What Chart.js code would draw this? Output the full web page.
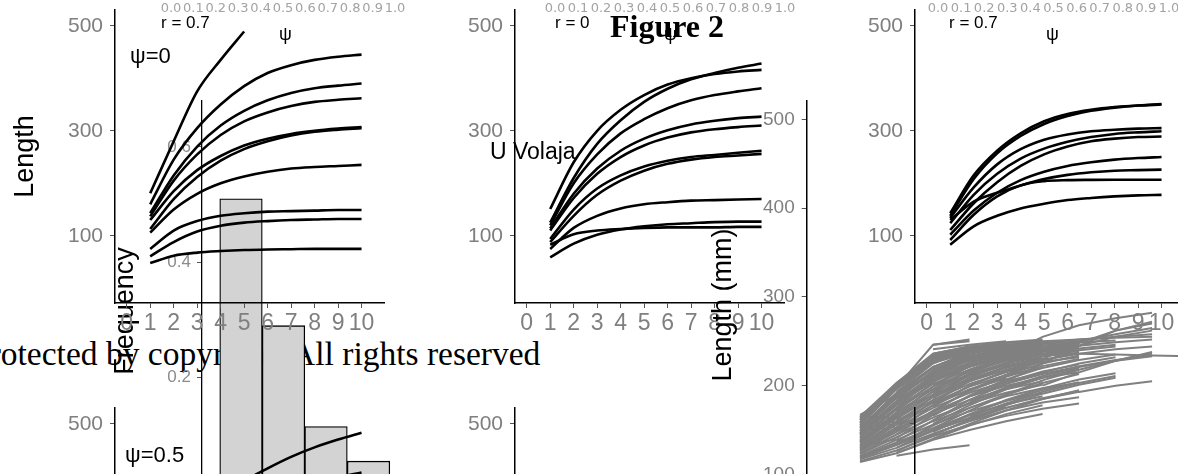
<!DOCTYPE html>
<html>
<head>
<meta charset="utf-8">
<script src="https://cdn.jsdelivr.net/npm/chart.js@4.4.1/dist/chart.umd.min.js"></script>
<style>
  html, body { margin: 0; padding: 0; background: #fff; }
  body { position: relative; width: 1178px; height: 474px; overflow: hidden;
         font-family: 'Liberation Sans', Arial, sans-serif; }
  canvas { position: absolute; }
  .lbl { position: absolute; white-space: nowrap; line-height: 1; color: #000; }
</style>
</head>
<body>
<div class="lbl" style="left:-29px;top:335px;font:33.5px 'Liberation Serif', serif;">Protected by copyright. All rights reserved</div>
<script>
// ---- growth-curve panels: length at age 1..10 ----
const ages = [1, 2, 3, 4, 5, 6, 7, 8, 9, 10];
const ageTicks = [0, 1, 2, 3, 4, 5, 6, 7, 8, 9, 10];
const lengthTicks = [100, 300, 500];

// r = 0.7, psi = 0
const curvesR07Psi0 = [
  [181, 280, 375, 435, 489],
  [160, 245, 305, 350, 385, 410, 425, 435, 441, 445],
  [143, 215, 270, 310, 338, 358, 372, 381, 386, 390],
  [137, 205, 255, 292, 318, 335, 347, 355, 359, 362],
  [130, 185, 225, 252, 272, 285, 294, 300, 304, 307],
  [113, 170, 212, 243, 265, 280, 291, 298, 302, 305],
  [106, 150, 180, 200, 213, 222, 228, 231, 233, 235],
  [75, 110, 128, 138, 143, 146, 147, 148, 149, 149],
  [61, 88, 108, 119, 125, 128, 130, 131, 132, 132],
  [48, 62, 68, 71, 73, 74, 74.5, 75, 75, 75]
];

// r = 0, psi = 0
const curvesR0 = [
  [151, 240, 300, 340, 368, 388, 400, 408, 413, 416],
  [125, 210, 275, 320, 355, 380, 398, 410, 420, 428],
  [120, 200, 255, 295, 322, 343, 358, 368, 375, 381],
  [114, 180, 228, 262, 285, 301, 312, 319, 324, 327],
  [110, 172, 218, 250, 272, 287, 297, 303, 307, 310],
  [94, 150, 190, 215, 232, 243, 250, 254, 258, 262],
  [88, 138, 178, 205, 224, 237, 245, 250, 253, 256],
  [75, 115, 138, 152, 160, 164, 167, 168, 169, 170],
  [59, 85, 102, 112, 118, 122, 124, 126, 127, 127],
  [83, 103, 110, 113, 115, 116, 116, 116, 117, 117]
];

// r = 0.7 (right column)
const curvesR07 = [
  [143, 215, 262, 295, 318, 332, 340, 345, 348, 351],
  [138, 208, 257, 290, 313, 328, 338, 344, 348, 350],
  [134, 192, 236, 265, 283, 293, 299, 302, 304, 305],
  [124, 178, 218, 247, 266, 279, 288, 294, 297, 299],
  [111, 162, 202, 233, 255, 270, 280, 285, 288, 289],
  [102, 148, 182, 206, 222, 233, 240, 245, 248, 250],
  [130, 165, 182, 196, 208, 216, 221, 224, 225, 226],
  [92, 140, 175, 196, 204, 206, 206.5, 206.7, 206.7, 206.7],
  [83, 118, 138, 152, 161, 168, 172, 175, 177, 178]
];

// r = 0.7, psi = 0.5
const curvesR07Psi05 = [
  [150, 240, 305, 355, 390, 415, 437, 455, 470, 483],
  [130, 210, 265, 305, 335, 357, 374, 387, 398, 407]
];

// ---- histogram ----
const freqBins = [0.3, 0.5, 0.7, 0.9];
const freqValues = [0.51, 0.29, 0.115, 0.055];
const freqTicks = [0.2, 0.4, 0.6];
const psiTicks = [0, 0.1, 0.2, 0.3, 0.4, 0.5, 0.6, 0.7, 0.8, 0.9, 1.0];

// ---- observed fish lengths (mm), one row per fish, first value at its first age ----
const mmTicks = [100, 200, 300, 400, 500];
const fishFromAge1 = [
  [114, 124, 139, 150, 160, 168],
  [115, 127, 143, 156, 166, 174, 180],
  [117, 130, 146, 160, 172, 181, 187],
  [118, 133, 149, 164, 176],
  [119, 134, 150, 163, 175, 185, 193, 200, 205],
  [120, 136, 152, 167, 179, 188],
  [121, 139, 156, 171, 183, 192],
  [123, 142, 160, 175, 188, 197, 203],
  [124, 145, 164, 180, 192, 201],
  [126, 148, 168, 184, 196, 205],
  [127, 151, 171, 188, 200, 209, 215],
  [128, 150, 170, 188, 202, 213, 222, 229, 234],
  [129, 153, 175, 192, 205, 214, 220],
  [130, 156, 178, 196, 208],
  [131, 140],
  [132, 158, 181, 199, 212, 220],
  [133, 160, 184, 202, 215, 224],
  [135, 163, 187, 205, 218, 227, 232],
  [136, 165, 190, 208, 221, 229],
  [137, 166, 190, 207, 220, 229, 236, 241, 244],
  [138, 168, 193, 211, 223, 231],
  [139, 170, 196, 213, 225, 233, 237],
  [141, 173, 199, 216, 228, 235, 239],
  [142, 175, 202, 218, 230, 236],
  [144, 178, 205, 221, 232, 238],
  [145, 181, 209, 224, 234, 239],
  [146, 180, 207, 223, 233, 240, 245, 249, 252],
  [147, 183, 211, 226, 235, 240, 243],
  [149, 186, 214, 228, 237],
  [150, 188, 216, 230, 238, 242],
  [152, 190, 219, 232, 239, 243],
  [153, 192, 221, 234, 240, 244],
  [155, 198, 246, 250],
  [156, 196, 226, 237, 242],
  [158, 198, 228, 239, 243],
  [159, 200, 230, 240, 244, 246],
  [161, 201, 232, 241, 245, 247],
  [162, 203, 233, 242],
  [164, 200, 234, 243],
  [165, 203, 236, 244, 247],
  [167, 190, 215, 232, 242, 248, 252, 255, 258]
];
const fishFromAge2 = [
  [121, 128, 133],
  [124, 140, 155, 168, 178],
  [126, 145, 161, 175, 186, 194],
  [130, 150, 168, 183, 195, 204],
  [133, 155, 175, 190, 202],
  [137, 161, 181, 197, 209],
  [141, 167, 188, 204, 216, 224],
  [145, 172, 194, 210, 222, 230],
  [149, 178, 200, 216, 227],
  [153, 183, 206, 221, 231],
  [157, 188, 212, 226, 235, 240],
  [162, 194, 217, 230, 238, 242],
  [166, 199, 222, 234, 241],
  [171, 204, 226, 237, 243],
  [175, 209, 230, 239, 244],
  [180, 213, 233, 241, 245, 247],
  [184, 217, 236, 243, 246],
  [189, 221, 238, 244],
  [193, 225, 240, 245],
  [198, 228, 242, 246, 248],
  [202, 231, 243, 247]
];
const fishFromAge3 = [
  [140, 157, 172, 185, 195],
  [144, 162, 178, 191, 201, 209],
  [148, 167, 184, 197, 207, 214],
  [152, 172, 190, 203, 213],
  [157, 178, 196, 209, 219],
  [161, 184, 202, 215, 225, 232],
  [166, 189, 207, 220, 229, 235],
  [171, 195, 212, 225, 234],
  [176, 200, 217, 229, 237],
  [180, 195, 212, 230, 248, 262, 270],
  [181, 205, 221, 233, 240, 244],
  [186, 209, 225, 236, 242, 246],
  [191, 214, 229, 239, 244],
  [196, 218, 232, 241, 246],
  [201, 222, 235, 243, 247],
  [206, 226, 238, 245, 249, 251],
  [211, 230, 241, 247, 250],
  [216, 233, 243, 248],
  [221, 236, 245, 249],
  [226, 239, 246, 250, 252, 254, 255],
  [231, 242, 248, 251],
  [236, 244, 249, 252],
  [241, 246, 250],
  [246, 252]
];
const fishLaterStart = [4, 4, 4, 5, 5, 5, 6, 6, 7];
const fishLater = [
  [165, 180, 193, 203, 211],
  [182, 198, 211, 221, 228, 233],
  [215, 235, 255, 268, 276, 282],
  [190, 206, 218, 228, 236],
  [205, 225, 245, 262, 272],
  [225, 240, 250, 258, 265],
  [200, 215, 228, 238],
  [235, 245, 255, 262],
  [236, 235, 234, 233]
];

// ---- drawing ----
const GREY = '#7f7f7f';
const TICKMARK = '#555';
Chart.defaults.font.family = "'Liberation Sans', Arial, sans-serif";
Chart.defaults.animation = false;
Chart.defaults.responsive = false;
Chart.defaults.plugins.legend.display = false;
Chart.defaults.plugins.tooltip.enabled = false;

function addCanvas(left, top, w, h) {
  const c = document.createElement('canvas');
  c.width = w; c.height = h;
  c.style.left = left + 'px'; c.style.top = top + 'px';
  c.style.width = w + 'px'; c.style.height = h + 'px';
  document.body.appendChild(c);
  return c;
}
function fixedTicks(values) {
  return scale => { scale.ticks = values.map(v => ({ value: v })); };
}
// pin an axis box to an exact size and keep its labels from shrinking the plot area
function pinSize(prop, size) {
  return s => {
    s[prop] = size;
    s.paddingTop = 0; s.paddingBottom = 0; s.paddingLeft = 0; s.paddingRight = 0;
  };
}
function curveSets(curves) {
  return curves.map(vals => ({
    data: vals.map((v, i) => ({ x: ages[i], y: v })),
    borderColor: '#000', borderWidth: 2.6, pointRadius: 0,
    cubicInterpolationMode: 'monotone', fill: false
  }));
}

function growthPanel(left, top, curves, title) {
  const c = addCanvas(left, top, 385, 340);
  return new Chart(c, {
    type: 'line',
    data: { datasets: curveSets(curves) },
    options: {
      devicePixelRatio: 1,
      layout: { padding: { top: 10, left: 0, right: 0, bottom: 0 } },
      scales: {
        x: {
          type: 'linear', min: -0.5, max: 11,
          afterBuildTicks: fixedTicks(ageTicks),
          afterFit: pinSize('height', 37),
          grid: { display: true, drawOnChartArea: false, drawTicks: true, tickLength: 5, color: TICKMARK, lineWidth: 1 },
          border: { display: true, color: '#000', width: 1.5 },
          ticks: { color: GREY, font: { size: 23 }, padding: 2, maxRotation: 0, autoSkip: false, callback: v => String(v) }
        },
        y: {
          type: 'linear', min: -28, max: 530,
          afterBuildTicks: fixedTicks(lengthTicks),
          afterFit: pinSize('width', 115),
          grid: { display: true, drawOnChartArea: false, drawTicks: true, tickLength: 5, color: TICKMARK, lineWidth: 1 },
          border: { display: true, color: '#000', width: 1.5 },
          ticks: { color: GREY, font: { size: 21 }, padding: 7, callback: v => String(v) },
          title: { display: !!title, text: title || '', color: '#000', font: { size: 27 }, padding: { top: 9.3, bottom: 0 } }
        }
      }
    }
  });
}

function stripChart(c0, c1) {
  const pad = 20;
  const c = addCanvas(c0 - pad, -3, (c1 - c0) + 2 * pad, 18);
  return new Chart(c, {
    type: 'scatter',
    data: { datasets: [] },
    options: {
      devicePixelRatio: 1,
      layout: { padding: { left: pad, right: pad, top: 0, bottom: 0 } },
      scales: {
        x: {
          type: 'linear', min: 0, max: 1,
          afterBuildTicks: fixedTicks(psiTicks),
          afterFit: pinSize('height', 14),
          grid: { display: false, drawTicks: false },
          border: { display: false },
          ticks: { color: '#a3a3a3', font: { family: "'DejaVu Sans', sans-serif", size: 13 }, padding: 0,
                   autoSkip: false, maxRotation: 0, callback: v => v.toFixed(1) }
        },
        y: { display: false }
      }
    }
  });
}

// histogram (drawn first, beneath the panels)
new Chart(addCanvas(100, 100, 300, 422), {
  type: 'bar',
  data: { datasets: [{
    data: freqBins.map((b, i) => ({ x: b, y: freqValues[i] })),
    backgroundColor: '#d3d3d3', borderColor: '#000', borderWidth: 1.3,
    barPercentage: 1, categoryPercentage: 1
  }] },
  options: {
    devicePixelRatio: 1,
    layout: { padding: 0 },
    scales: {
      x: { type: 'linear', min: 0.1165, max: 1.048, offset: false, grid: { offset: false }, display: false },
      y: {
        type: 'linear', min: -0.0505, max: 0.6815,
        afterBuildTicks: fixedTicks(freqTicks),
        afterFit: pinSize('width', 102),
        grid: { display: true, drawOnChartArea: false, tickLength: 5, color: TICKMARK },
        border: { display: true, color: '#000', width: 1.3 },
        ticks: { color: '#8c8c8c', font: { size: 17 }, padding: 6, callback: v => v.toFixed(1) },
        title: { display: true, text: 'Frequency', color: '#000', font: { size: 27 }, padding: { top: 9.8, bottom: 0 } }
      }
    }
  }
});

growthPanel(0, 0, curvesR07Psi0, 'Length');
growthPanel(400, 0, curvesR0, '');
growthPanel(800, 0, curvesR07, '');

// observed lengths by age
const fishRows = []
  .concat(fishFromAge1.map(v => [1, v]))
  .concat(fishFromAge2.map(v => [2, v]))
  .concat(fishFromAge3.map(v => [3, v]))
  .concat(fishLater.map((v, k) => [fishLaterStart[k], v]));
new Chart(addCanvas(700, 100, 478, 410), {
  type: 'line',
  data: { datasets: fishRows.map(([a0, vals]) => ({
    data: vals.map((v, i) => ({ x: a0 + i, y: v })),
    borderColor: '#808080', borderWidth: 2, pointRadius: 0, fill: false, tension: 0
  })) },
  options: {
    devicePixelRatio: 1,
    layout: { padding: 0 },
    scales: {
      x: { type: 'linear', min: -0.46, max: 9.71, display: false },
      y: {
        type: 'linear', min: 60, max: 521.7,
        afterBuildTicks: fixedTicks(mmTicks),
        afterFit: pinSize('width', 106.7),
        grid: { display: true, drawOnChartArea: false, tickLength: 5, color: TICKMARK },
        border: { display: true, color: '#000', width: 1.5 },
        ticks: { color: GREY, font: { size: 19 }, padding: 7, callback: v => String(v) },
        title: { display: true, text: 'Length (mm)', color: '#000', font: { size: 27 }, padding: { top: 7.3, bottom: 0 } }
      }
    }
  }
});

growthPanel(0, 398, curvesR07Psi05, 'Length');
growthPanel(400, 398, [], '');
growthPanel(800, 398, [], '');

stripChart(170.6, 395.5);
stripChart(554.6, 785.4);
stripChart(937.6, 1169.5);

// panel annotations
function addLabel(text, left, top, font) {
  const d = document.createElement('div');
  d.className = 'lbl';
  d.textContent = text;
  d.style.left = left + 'px'; d.style.top = top + 'px';
  d.style.font = font;
  document.body.appendChild(d);
}
const SANS = "'Liberation Sans', Arial, sans-serif";
addLabel('r = 0.7', 161, 13, '17px ' + SANS);
addLabel('r = 0', 555, 13, '17px ' + SANS);
addLabel('r = 0.7', 949, 13, '17px ' + SANS);
addLabel('\u03C8', 279, 24, '18px ' + SANS);
addLabel('\u03C8', 664, 24, '18px ' + SANS);
addLabel('\u03C8', 1046, 24, '18px ' + SANS);
addLabel('\u03C8=0', 130, 43, '22px ' + SANS);
addLabel('\u03C8=0.5', 125, 442, '22px ' + SANS);
addLabel('Figure 2', 610, 8, "bold 32px 'Liberation Serif', serif");
addLabel('U Volaja', 490, 138, '23px ' + SANS);
</script>
</body>
</html>
